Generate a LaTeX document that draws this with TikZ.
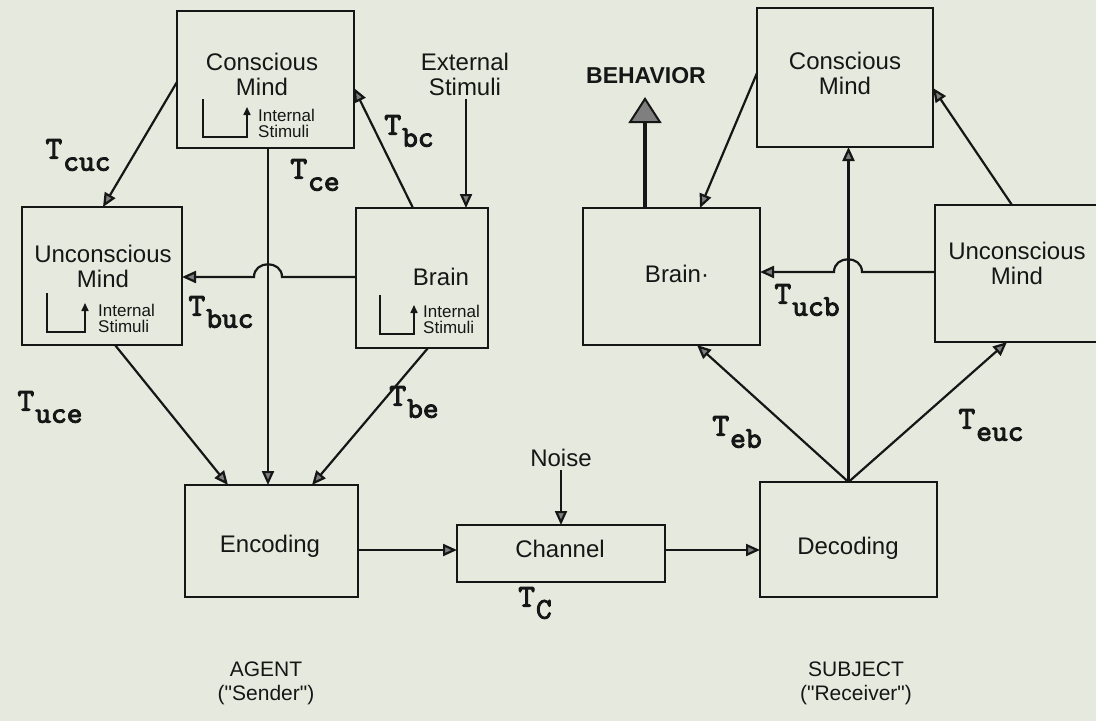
\documentclass[tikz,border=0pt]{standalone}
\usepackage{fontspec}
\setmainfont{Liberation Sans}
\newfontfamily\qfont{Liberation Sans}
\newfontfamily\tfont{lmmono10-regular}[Extension=.otf, AutoFakeBold=3]
\usetikzlibrary{arrows.meta}
\definecolor{paper}{RGB}{230,234,222}
\definecolor{ink}{RGB}{22,22,22}
\newcommand{\tsym}[1]{{\tfont\bfseries\fontsize{32}{32}\selectfont T\kern1pt\raisebox{-12pt}{\fontsize{30}{30}\selectfont #1}}}

\begin{document}
\begin{tikzpicture}[x=1pt,y=-1pt,
  box/.style={draw=ink, line width=2.8pt, inner sep=0pt, outer sep=0pt},
  txt/.style={align=center, font=\fontsize{24}{25}\selectfont, text=ink},
  stim/.style={align=left, anchor=west, inner sep=0pt, font=\fontsize{17}{16}\selectfont, text=ink},
  tl/.style={inner sep=0pt, text=ink},
  conn/.style={draw=ink, line width=2.2pt, -{Triangle[length=14pt,width=12pt,fill=ink!55]}},
  stimloop/.style={draw=ink, line width=1.6pt, -{Triangle[length=8pt,width=7pt]}}]
\fill[paper] (0,0) rectangle (1096,721);
\useasboundingbox (0,0) rectangle (1096,721);

% agent side
\node[box, minimum width=177, minimum height=137] (cmL) at (265.5,79.5) {};
\node[box, minimum width=160, minimum height=138] (umL) at (102,276) {};
\node[box, minimum width=132, minimum height=140] (brL) at (422,278) {};
\node[box, minimum width=173, minimum height=112] (enc) at (271.5,541) {};
\node[txt] (cmLt) at (262,74) {Conscious\\Mind};
\node[txt] (umLt) at (103,266) {Unconscious\\Mind};
\node[txt] (brLt) at (441,277) {Brain};
\node[txt] (enct) at (270,546) {Encoding};
\node[txt] (ext) at (465,74) {External\\Stimuli};

% internal stimuli
\draw[stimloop] (203,99) -- (203,137) -- (247,137) -- (247,107);
\node[stim] (cmLs) at (258,123) {Internal\\Stimuli};
\draw[stimloop] (47,293) -- (47,332) -- (85,332) -- (85,303);
\node[stim] (umLs) at (98,318) {Internal\\Stimuli};
\draw[stimloop] (380,295) -- (380,334) -- (414,334) -- (414,305);
\node[stim] (brLs) at (423,319) {Internal\\Stimuli};

% channel
\node[box, minimum width=208, minimum height=57] (chan) at (561,553.5) {};
\node[txt] (chant) at (560,549) {Channel};
\node[txt] (noise) at (561,458) {Noise};

% subject side
\node[box, minimum width=176, minimum height=139] (cmR) at (845,77.5) {};
\node[box, minimum width=177, minimum height=137] (brR) at (671.5,276.5) {};
\node[box, minimum width=162, minimum height=137] (umR) at (1016,273.5) {};
\node[box, minimum width=177, minimum height=115] (dec) at (848.5,539.5) {};
\node[txt] (cmRt) at (845,73) {Conscious\\Mind};
\node[txt] (brRt) at (677,274) {Brain·};
\node[txt] (umRt) at (1017,263) {Unconscious\\Mind};
\node[txt] (dect) at (848,548) {Decoding};
\node[txt, font=\fontsize{23}{25}\selectfont\bfseries] (beh) at (646,76) {BEHAVIOR};
\coordinate (behtip) at (645,97);

\node[txt, font=\qfont\fontsize{21}{24}\selectfont] (agent) at (266,683) {AGENT\\("Sender")};
\node[txt, font=\qfont\fontsize{21}{24}\selectfont] (subj) at (856,683) {SUBJECT\\("Receiver")};

% connectors, agent
\draw[conn] (cmL.west |- 0,82) -- (umL.north -| 103,0);
\draw[conn] (brL.north -| 413,0) -- (cmL.east |- 0,88);
\draw[conn] (ext.south -| 466,0) -- (brL.north -| 466,0);
\draw[conn] (cmL.south -| 268,0) -- (enc.north -| 268,0);
\draw[conn] (brL.west |- 0,277) -- (282,277) .. controls (282,260) and (254,260) .. (254,277) -- (umL.east |- 0,277);
\draw[conn] (umL.south -| 115,0) -- (enc.north -| 228,0);
\draw[conn] (brL.south -| 428,0) -- (enc.north -| 312,0);
\draw[conn] (enc.east |- 0,550) -- (chan.west |- 0,550);
\draw[conn] (noise.south) -- (chan.north -| noise.south);
\draw[conn] (chan.east |- 0,550) -- (dec.west |- 0,550);

% connectors, subject
\draw[conn] (dec.north) -- (cmR.south -| dec.north);
\draw[conn] (dec.north) -- (brR.south -| 697,0);
\draw[conn] (dec.north) -- (umR.south -| 1007,0);
\draw[conn] (umR.west |- 0,272) -- (862,272) .. controls (862,255) and (834,255) .. (834,272) -- (brR.east |- 0,272);
\draw[conn] (umR.north -| 1012,0) -- (cmR.east |- 0,88);
\draw[conn] (cmR.west |- 0,73) -- (brR.north -| 700,0);
\draw[draw=ink, line width=4pt, -{Triangle[length=26pt,width=33pt,fill=ink!55,line width=2pt]}] (brR.north -| behtip) -- (behtip);

% transfer labels
\node[tl] (tcuc) at (78,155) {\tsym{cuc}};
\node[tl] (tce) at (315,175) {\tsym{ce}};
\node[tl] (tbc) at (409,131) {\tsym{bc}};
\node[tl] (tbuc) at (221,312) {\tsym{buc}};
\node[tl] (tuce) at (50,407) {\tsym{uce}};
\node[tl] (tbe) at (414,402) {\tsym{be}};
\node[tl] (tc) at (535,603) {\tsym{C}};
\node[tl] (teb) at (737,432) {\tsym{eb}};
\node[tl] (teuc) at (991,425) {\tsym{euc}};
\node[tl] (tucb) at (807,300) {\tsym{ucb}};
\end{tikzpicture}
\end{document}
